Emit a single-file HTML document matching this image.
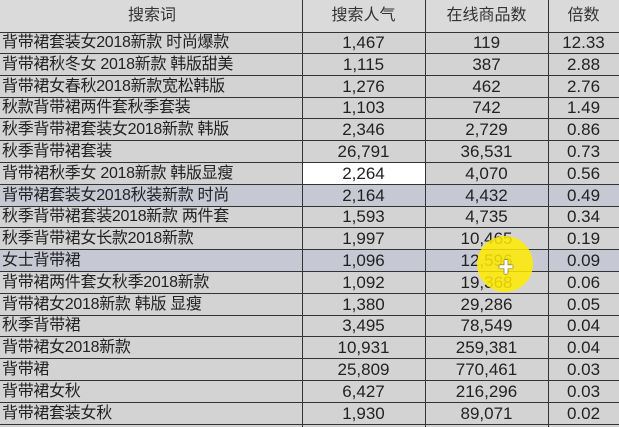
<!DOCTYPE html>
<html><head><meta charset="utf-8"><style>
body{margin:0;width:619px;height:427px;overflow:hidden;background:#d3d3d3;font-family:"Liberation Sans","Noto Sans CJK SC",sans-serif;color:#222;position:relative;}
.r{position:absolute;left:0;width:619px;height:22px;box-sizing:border-box;border-bottom:1px solid #333;display:flex;font-size:17px;line-height:21px;white-space:nowrap;}
.r span{display:block;text-align:center;overflow:hidden;}
.r span:nth-child(1){width:302px;text-align:left;padding-left:2px;box-sizing:border-box;font-size:16px;letter-spacing:-0.3px;}
.r span:nth-child(2){width:123px;}
.r span:nth-child(3){width:123px;}
.r span:nth-child(4){width:71px;}
.h{height:33px;background:#dadada;color:#333;line-height:32px;font-size:16px;}
.h span:nth-child(1){text-align:center;letter-spacing:0;}
.b{background:#c6c9d3;}
.w{background:#fff;}
.v{position:absolute;top:0;width:1px;height:427px;background:#333;}
.dot{position:absolute;left:477px;top:236px;width:56px;height:56px;border-radius:50%;background:rgba(255,235,0,0.85);}
.plus{position:absolute;left:498px;top:254px;font-size:16px;font-weight:bold;color:#fff;text-shadow:0 0 1px #000,0 0 1px #000;}
</style></head><body>
<div class="r h" style="top:0"><span>搜索词</span><span>搜索人气</span><span>在线商品数</span><span>倍数</span></div>
<div class="r" style="top:32px"><span>背带裙套装女2018新款 时尚爆款</span><span>1,467</span><span>119</span><span>12.33</span></div>
<div class="r" style="top:54px"><span>背带裙秋冬女 2018新款 韩版甜美</span><span>1,115</span><span>387</span><span>2.88</span></div>
<div class="r" style="top:76px"><span>背带裙女春秋2018新款宽松韩版</span><span>1,276</span><span>462</span><span>2.76</span></div>
<div class="r" style="top:97px"><span>秋款背带裙两件套秋季套装</span><span>1,103</span><span>742</span><span>1.49</span></div>
<div class="r" style="top:119px"><span>秋季背带裙套装女2018新款 韩版</span><span>2,346</span><span>2,729</span><span>0.86</span></div>
<div class="r" style="top:141px"><span>秋季背带裙套装</span><span>26,791</span><span>36,531</span><span>0.73</span></div>
<div class="r" style="top:163px"><span>背带裙秋季女 2018新款 韩版显瘦</span><span class="w">2,264</span><span>4,070</span><span>0.56</span></div>
<div class="r b" style="top:185px"><span>背带裙套装女2018秋装新款 时尚</span><span>2,164</span><span>4,432</span><span>0.49</span></div>
<div class="r" style="top:206px"><span>秋季背带裙套装2018新款 两件套</span><span>1,593</span><span>4,735</span><span>0.34</span></div>
<div class="r" style="top:228px"><span>秋季背带裙女长款2018新款</span><span>1,997</span><span>10,465</span><span>0.19</span></div>
<div class="r b" style="top:250px"><span>女士背带裙</span><span>1,096</span><span>12,596</span><span>0.09</span></div>
<div class="r" style="top:272px"><span>背带裙两件套女秋季2018新款</span><span>1,092</span><span>19,368</span><span>0.06</span></div>
<div class="r" style="top:294px"><span>背带裙女2018新款 韩版 显瘦</span><span>1,380</span><span>29,286</span><span>0.05</span></div>
<div class="r" style="top:315px"><span>秋季背带裙</span><span>3,495</span><span>78,549</span><span>0.04</span></div>
<div class="r" style="top:337px"><span>背带裙女2018新款</span><span>10,931</span><span>259,381</span><span>0.04</span></div>
<div class="r" style="top:359px"><span>背带裙</span><span>25,809</span><span>770,461</span><span>0.03</span></div>
<div class="r" style="top:381px"><span>背带裙女秋</span><span>6,427</span><span>216,296</span><span>0.03</span></div>
<div class="r" style="top:403px"><span>背带裙套装女秋</span><span>1,930</span><span>89,071</span><span>0.02</span></div>
<div class="v" style="left:302px"></div><div class="v" style="left:425px"></div><div class="v" style="left:548px"></div>
<div class="dot"></div><div class="plus">✚</div>
</body></html>
